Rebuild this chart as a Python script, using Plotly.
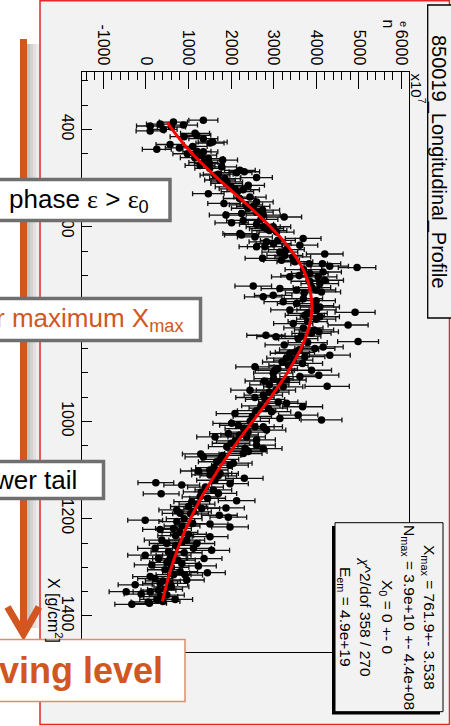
import plotly.graph_objects as go

# ---------------------------------------------------------------- data
# longitudinal profile: slant depth X [g/cm^2], size n_e [x10^7], error on n_e
profile = [
    (381, 1350, 340), (385, 647, 330), (389, 335, 320), (391, 882, 330), (393, 101, 320),
    (395, 600, 330), (400, 413, 320), (403, 101, 330), (408, 1155, 340), (412, 1194, 330),
    (415, 900, 330), (419, 1350, 340), (426, 1569, 340), (428, 1506, 330), (431, 569, 330),
    (435, 1100, 340), (438, 788, 330), (441, 257, 340), (445, 1200, 330), (446, 1350, 340),
    (450, 975, 340), (453, 1311, 350), (458, 1150, 340), (460, 1467, 350), (463, 1803, 350),
    (468, 1350, 340), (470, 1491, 350), (474, 1272, 350), (477, 1780, 350), (480, 1500, 350),
    (484, 2209, 360), (487, 2311, 360), (489, 2131, 360), (492, 1700, 350), (494, 1624, 350),
    (499, 2600, 370), (501, 1858, 360), (504, 1741, 360), (508, 1900, 370), (511, 1897, 370),
    (515, 2405, 380), (518, 2000, 370), (522, 2092, 370), (524, 2287, 380), (528, 2150, 380),
    (532, 1467, 370), (539, 2444, 380), (542, 2200, 380), (549, 2600, 390), (552, 1834, 380),
    (555, 2350, 390), (558, 2522, 390), (562, 2400, 390), (566, 2741, 400), (570, 2600, 390),
    (573, 2248, 390), (576, 1881, 390), (576, 2756, 400), (580, 3248, 410), (585, 2700, 400),
    (587, 2287, 390), (592, 2014, 390), (595, 2600, 400), (600, 2756, 400), (600, 2991, 410),
    (604, 2834, 400), (608, 2900, 410), (611, 3069, 410), (614, 2209, 400), (617, 2248, 400),
    (621, 2561, 410), (624, 3694, 420), (628, 3100, 410), (631, 2834, 410), (635, 3000, 410),
    (638, 3616, 420), (641, 2600, 410), (641, 2795, 410), (647, 3300, 420), (652, 3147, 420),
    (656, 4201, 430), (659, 3264, 420), (662, 3450, 420), (665, 2741, 410), (669, 3186, 420),
    (672, 3500, 420), (676, 3834, 430), (676, 4146, 430), (681, 4318, 440), (684, 4960, 440),
    (688, 3700, 430), (693, 4162, 430), (696, 3850, 430), (700, 3600, 430), (703, 3381, 430),
    (703, 4046, 440), (710, 4201, 440), (712, 3850, 440), (717, 4084, 440), (722, 2522, 430),
    (725, 3900, 440), (727, 3147, 440), (730, 3538, 440), (730, 4008, 450), (734, 4123, 450),
    (736, 3717, 440), (741, 2991, 440), (744, 2756, 440), (748, 3700, 450), (752, 4000, 450),
    (754, 3226, 450), (758, 3539, 450), (762, 3950, 460), (765, 4086, 460), (771, 3383, 450),
    (771, 4008, 460), (776, 4914, 470), (778, 3800, 460), (782, 3734, 460), (785, 4086, 460),
    (790, 4000, 460), (795, 3800, 460), (799, 3461, 460), (802, 4750, 470), (808, 3700, 460),
    (812, 3950, 460), (816, 4062, 460), (819, 3890, 460), (823, 2820, 450), (825, 3650, 460),
    (826, 3055, 450), (830, 3578, 460), (836, 4984, 480), (838, 3800, 460), (843, 3250, 450),
    (847, 4164, 470), (850, 3969, 470), (853, 3600, 460), (858, 3500, 460), (860, 3383, 460),
    (864, 4320, 480), (867, 3734, 470), (870, 3300, 460), (874, 3461, 460), (878, 3200, 460),
    (881, 3680, 470), (885, 3350, 460), (888, 2562, 450), (892, 3100, 460), (895, 3031, 460),
    (895, 3890, 470), (901, 2992, 460), (905, 4062, 470), (908, 3617, 470), (912, 3000, 460),
    (915, 3305, 460), (917, 2781, 450), (920, 3150, 460), (925, 2900, 460), (928, 4258, 520),
    (929, 3226, 460), (936, 2445, 450), (936, 3055, 460), (940, 2900, 460), (946, 2758, 450),
    (951, 2562, 450), (955, 2800, 460), (960, 3109, 460), (963, 3305, 460), (968, 2700, 450),
    (970, 3680, 470), (973, 2875, 450), (978, 2600, 450), (980, 2953, 450), (984, 2093, 440),
    (987, 3578, 460), (990, 2500, 450), (994, 3148, 460), (997, 4125, 480), (1000, 2450, 450),
    (1004, 2015, 440), (1008, 2172, 440), (1011, 2562, 450), (1011, 2758, 450), (1015, 2300, 440),
    (1018, 2836, 450), (1022, 2400, 440), (1025, 1938, 440), (1028, 2200, 440), (1032, 1625, 430),
    (1032, 2367, 440), (1038, 2601, 440), (1040, 2100, 440), (1045, 2000, 440), (1049, 2601, 440),
    (1052, 1900, 430), (1056, 2328, 440), (1056, 2757, 440), (1059, 2367, 440), (1062, 2406, 440),
    (1066, 2289, 440), (1067, 1289, 430), (1070, 1800, 430), (1073, 1351, 430), (1078, 1750, 430),
    (1083, 1664, 430), (1086, 2054, 440), (1090, 1976, 430), (1095, 1600, 430), (1100, 1500, 430),
    (1102, 1234, 420), (1107, 1586, 430), (1107, 1742, 430), (1110, 1507, 430), (1112, 1700, 430),
    (1117, 2312, 440), (1121, 1624, 430), (1126, 234, 420), (1128, 1976, 430), (1131, 843, 420),
    (1135, 1400, 420), (1141, 1585, 430), (1145, 1300, 420), (1148, 1703, 430), (1149, 359, 420),
    (1155, 1273, 420), (1158, 1450, 420), (1163, 2132, 430), (1165, 1078, 420), (1170, 1200, 420),
    (1175, 1000, 420), (1178, 1882, 430), (1179, 1312, 420), (1182, 726, 420), (1186, 1117, 420),
    (1189, 804, 420), (1190, 1050, 420), (1193, 1726, 420), (1197, 1937, 430), (1200, 900, 420),
    (1203, -16, 410), (1206, 726, 420), (1210, 1100, 420), (1211, 1507, 420), (1215, 850, 420),
    (1217, 1976, 430), (1220, 648, 420), (1222, 335, 410), (1228, 800, 420), (1232, 1000, 420),
    (1235, 700, 420), (1237, 1507, 420), (1244, 374, 410), (1244, 960, 420), (1248, 850, 420),
    (1251, 492, 410), (1251, 1195, 420), (1255, 700, 420), (1261, 218, 410), (1261, 1117, 420),
    (1265, 1546, 420), (1268, 531, 410), (1270, 900, 420), (1275, -16, 410), (1275, 650, 410),
    (1282, 296, 410), (1282, 570, 410), (1282, 1367, 420), (1285, 750, 410), (1290, 500, 410),
    (1292, 843, 410), (1295, 140, 410), (1297, 1234, 420), (1300, 600, 410), (1305, 450, 410),
    (1309, 804, 410), (1311, 1445, 420), (1315, 650, 410), (1316, 921, 410), (1319, 101, 410),
    (1323, 218, 410), (1326, 960, 410), (1328, 400, 410), (1333, 335, 410), (1333, 570, 410),
    (1336, -251, 400), (1340, 600, 410), (1345, 450, 410), (1347, 296, 410), (1350, -462, 400),
    (1350, 101, 400), (1355, -110, 400), (1357, 492, 410), (1360, 350, 400), (1366, 257, 400),
    (1366, 687, 410), (1370, 400, 400), (1371, 54, 400), (1374, 85, 400), (1376, -329, 400),
]
depth = [p[0] for p in profile]
size = [p[1] for p in profile]
size_err = [p[2] for p in profile]

# Gaisser-Hillas fit curve [x10^7], Xmax = 761.9, Nmax = 3.9e+10
fit_depth = [385, 400, 450, 500, 550, 600, 650, 700, 762, 800, 850,
             900, 950, 1000, 1050, 1100, 1150, 1200, 1250, 1300, 1350, 1370]
fit_size = [504, 617, 1089, 1679, 2319, 2927, 3424, 3758, 3900, 3848, 3644,
            3323, 2935, 2508, 2086, 1696, 1347, 1048, 800, 600, 443, 391]

n_ticks = [-1000, 0, 1000, 2000, 3000, 4000, 5000, 6000]
x_ticks = [400, 600, 800, 1000, 1200, 1400]

title_text = "850019_Longitudinal_Profile"
stats_lines = [
    "X<sub>max</sub> = 761.9+- 3.538",
    "N<sub>max</sub> = 3.9e+10 +- 4.4e+08",
    "X<sub>0</sub> = 0 +- 0",
    "<span style='font-family:Liberation Serif'><i>χ</i></span>^2/dof 358 / 270",
    "E<sub>em</sub> = 4.9e+19",
]

# ---------------------------------------------------------------- page geometry
W, H = 451, 726
ML, MR, MT, MB = 82, 42, 72, 74
PW, PH = W - ML - MR, H - MT - MB
ORANGE = "#d2561f"
FONT = "Liberation Sans"


def fx(x):
    return (x - ML) / PW


def fy(y):
    return 1 - (y - MT) / PH


def rect(x0, y0, x1, y1, fill, line="rgba(0,0,0,0)", lw=0, layer="above"):
    return dict(type="rect", xref="paper", yref="paper", layer=layer,
                x0=fx(x0), x1=fx(x1), y0=fy(y1), y1=fy(y0),
                fillcolor=fill, line=dict(color=line, width=lw))


fig = go.Figure()

fig.add_trace(go.Scatter(
    x=size, y=depth, mode="markers",
    marker=dict(color="black", size=7.5),
    error_x=dict(type="data", array=size_err, color="#111111", thickness=1.3, width=2.5),
    showlegend=False, hoverinfo="skip",
))
fig.add_trace(go.Scatter(
    x=fit_size, y=fit_depth, mode="lines", line_shape="spline",
    line=dict(color="#ff0000", width=3), showlegend=False, hoverinfo="skip",
))

shapes = [
    # canvas with red border
    rect(40, 0.8, 449.5, 724.5, "#f2f2f2", "#e0282a", 1.5, layer="below"),
    # arrow shadow
    rect(26.5, 44, 30, 628, "#c4c4c4"),
    rect(30, 44, 33, 628, "#d2d2d2"),
    rect(33, 44, 36, 628, "#e0e0e0"),
    rect(36, 44, 39, 628, "#ececec"),
    # arrow shaft and head
    rect(20, 39, 27, 630, ORANGE),
    dict(type="path", xref="paper", yref="paper", layer="above",
         path=f"M {fx(7.5)} {fy(607)} L {fx(23.5)} {fy(634)} L {fx(39)} {fy(607)}",
         line=dict(color=ORANGE, width=7)),
    # label boxes
    rect(-10, 179.5, 170, 220.5, "white", "#6f6f6f", 3.5),
    rect(-10, 298.5, 200.5, 340.5, "white", "#6f6f6f", 3.5),
    rect(-10, 461.5, 103.5, 498.5, "white", "#6f6f6f", 3.5),
    rect(-10, 639.5, 185, 701.5, "white", "#e58a68", 1.5),
    # title box
    rect(427.7, 5, 455, 318, "#f2f2f2", "black", 1.3),
    # statistics box with shadow
    rect(332, 526, 440, 714.5, "black"),
    rect(335, 522.7, 443, 711.7, "#f2f2f2", "black", 1.0),
]

annotations = []


def note(text, x, y, size, color="black", angle=0, xanchor="center", family=FONT):
    annotations.append(dict(
        text=text, xref="paper", yref="paper", x=fx(x), y=fy(y),
        xanchor=xanchor, yanchor="middle", showarrow=False, textangle=angle,
        font=dict(family=family, size=size, color=color),
    ))


eps = "<span style='font-family:Liberation Serif'>ε</span>"
note(f"phase {eps} > {eps}<sub>0</sub>", 151, 200, 26, xanchor="right")
note("r maximum X<sub>max</sub>", 185, 319, 26, color=ORANGE, xanchor="right")
note("wer tail", 79, 480, 26, xanchor="right")
note("<b>ving level</b>", 165, 670, 36, color=ORANGE, xanchor="right")

note(title_text, 438.5, 161.5, 20, angle=90)
for text, xc in zip(stats_lines, [429, 409, 387, 366, 345]):
    note(text, xc, 617, 15.5, angle=90)

note("X [g/cm<sup>2</sup>]", 55, 610, 16, angle=90)
note("n", 388.5, 24, 16, angle=90)
note("e", 404.5, 23.5, 11, angle=90)
note("x10<sup>7</sup>", 418, 88.5, 15, angle=90)

axis_font = dict(family=FONT, size=16, color="black")
fig.update_layout(
    width=W, height=H,
    margin=dict(l=ML, r=MR, t=MT, b=MB, pad=0),
    paper_bgcolor="white", plot_bgcolor="rgba(0,0,0,0)",
    shapes=shapes, annotations=annotations,
    xaxis=dict(
        side="top", range=[-1500, 6180], tickvals=n_ticks, ticktext=[str(v) for v in n_ticks],
        tickangle=90, ticks="inside", ticklen=17, tickwidth=1, tickcolor="black",
        minor=dict(dtick=200, tick0=0, ticks="inside", ticklen=8, tickwidth=1, tickcolor="black"),
        showgrid=False, zeroline=False, showline=True, linecolor="black", linewidth=1,
        mirror=True, tickfont=axis_font, automargin=False,
    ),
    yaxis=dict(
        range=[1474, 282], tickvals=x_ticks, ticktext=[str(v) for v in x_ticks],
        tickangle=90, ticks="inside", ticklen=10, tickwidth=1, tickcolor="black",
        minor=dict(dtick=50, tick0=0, ticks="inside", ticklen=6, tickwidth=1, tickcolor="black"),
        showgrid=False, zeroline=False, showline=True, linecolor="black", linewidth=1,
        mirror=True, tickfont=axis_font, automargin=False,
    ),
)

fig.write_html("out.html", config=dict(displayModeBar=False))
